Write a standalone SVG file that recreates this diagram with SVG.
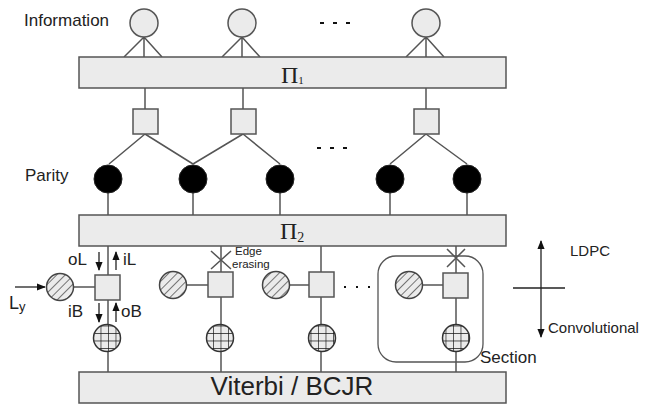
<svg xmlns="http://www.w3.org/2000/svg" width="645" height="407" viewBox="0 0 645 407">
  <defs>
    <style>
      .bar { fill: #ebebeb; stroke: #555; stroke-width: 1.5; }
      .chk { fill: #ebebeb; stroke: #555; stroke-width: 1.5; }
      .var { fill: #ebebeb; stroke: #555; stroke-width: 1.5; }
      .par { fill: #000; stroke: #222; stroke-width: 1; }
      .hat { fill: url(#hatch); stroke: #444; stroke-width: 1.5; }
      .grd { fill: url(#grid); stroke: #333; stroke-width: 1.5; }
      .ln { stroke: #555; stroke-width: 1.5; fill: none; }
      .ar { stroke: #222; stroke-width: 1.3; fill: none; }
      .lbl { font-family: "Liberation Sans", Arial, sans-serif; fill: #222; }
      .pi { font-family: "Liberation Serif", "Times New Roman", serif; fill: #222; }
    </style>
    <pattern id="hatch" patternUnits="userSpaceOnUse" width="6" height="6" patternTransform="rotate(45)">
      <rect width="6" height="6" fill="#ebebeb"/>
      <line x1="0" y1="0" x2="0" y2="6" stroke="#333" stroke-width="1.3"/>
    </pattern>
    <pattern id="grid" patternUnits="userSpaceOnUse" x="3" y="3" width="7.5" height="7.5">
      <rect width="7.5" height="7.5" fill="#ebebeb"/>
      <path d="M0 0H7.5M0 0V7.5" stroke="#111" stroke-width="1.3"/>
    </pattern>
    <marker id="ah" viewBox="0 0 10 10" refX="9" refY="5" markerWidth="7" markerHeight="7" orient="auto">
      <path d="M0 1L10 5L0 9Z" fill="#111"/>
    </marker>
  </defs>

  <!-- connectors -->
  <g id="connectors">
    <!-- information nodes to Pi1 -->
    <path class="ln" d="M144 37L124 57M144 37V57M144 37L162 57"/>
    <path class="ln" d="M242 37L222 57M242 37V57M242 37L260 57"/>
    <path class="ln" d="M426 37L406 57M426 37V57M426 37L444 57"/>
    <!-- Pi1 to check nodes -->
    <path class="ln" d="M145 88V109M243 88V109M426 88V109"/>
    <!-- check nodes to parity -->
    <path class="ln" d="M145 134L109 164M145 134L193 164"/>
    <path class="ln" d="M243 134L193 164M243 134L280 164"/>
    <path class="ln" d="M426 134L390 164M426 134L467 164"/>
    <!-- parity to Pi2 -->
    <path class="ln" d="M108 193V215M193 193V215M280 193V215M390 193V215M467 193V215"/>
    <!-- sections -->
    <path class="ln" d="M108 246V372M74 287H95"/>
    <path class="ln" d="M221 246V372M187 285H208"/>
    <path class="ln" d="M321 246V372M290 285H309"/>
    <path class="ln" d="M456 246V372M423 285H443"/>
    <!-- edge erasing marks -->
    <path class="ln" d="M211 251L231 269M231 251L211 269"/>
    <path class="ln" d="M447 249L465 267M465 249L447 267"/>
    <!-- channel input -->
    <line class="ar" x1="15" y1="287" x2="45" y2="287" marker-end="url(#ah)"/>
    <!-- message arrows -->
    <line class="ar" x1="99" y1="252" x2="99" y2="270" marker-end="url(#ah)"/>
    <line class="ar" x1="116" y1="270" x2="116" y2="252" marker-end="url(#ah)"/>
    <line class="ar" x1="99" y1="303" x2="99" y2="322" marker-end="url(#ah)"/>
    <line class="ar" x1="116" y1="322" x2="116" y2="303" marker-end="url(#ah)"/>
    <!-- LDPC / convolutional axis -->
    <line class="ar" x1="541" y1="288" x2="541" y2="241" marker-end="url(#ah)"/>
    <line class="ar" x1="541" y1="288" x2="541" y2="337" marker-end="url(#ah)"/>
    <line class="ar" x1="513" y1="288" x2="565" y2="288"/>
  </g>

  <!-- interleaver and decoder bars -->
  <g id="pi1">
    <rect class="bar" x="79" y="57" width="427" height="31"/>
    <text class="pi" x="281" y="83" font-size="24">Π<tspan font-size="11" dy="1">1</tspan></text>
  </g>
  <g id="pi2">
    <rect class="bar" x="79" y="215" width="427" height="31"/>
    <text class="pi" x="280" y="239" font-size="24">Π<tspan font-size="14" dy="3">2</tspan></text>
  </g>
  <g id="viterbi">
    <rect class="bar" x="79" y="372" width="427" height="31"/>
    <text class="lbl" x="292" y="395" font-size="26" text-anchor="middle">Viterbi / BCJR</text>
  </g>

  <!-- information nodes -->
  <g id="info">
    <text class="lbl" x="24" y="26" font-size="17">Information</text>
    <circle class="var" cx="144" cy="23" r="14"/>
    <circle class="var" cx="242" cy="23" r="14"/>
    <circle class="var" cx="426" cy="23" r="14"/>
    <path d="M320 23h4M333 23h4M346 23h4" stroke="#111" stroke-width="2.2"/>
  </g>

  <!-- check nodes -->
  <g id="checks">
    <rect class="chk" x="133" y="109" width="25" height="25"/>
    <rect class="chk" x="231" y="109" width="25" height="25"/>
    <rect class="chk" x="414" y="109" width="25" height="25"/>
    <path d="M317 148h4M330 148h4M343 148h4" stroke="#111" stroke-width="2.2"/>
  </g>

  <!-- parity nodes -->
  <g id="parity">
    <text class="lbl" x="25" y="181" font-size="17">Parity</text>
    <circle class="par" cx="108" cy="179" r="14"/>
    <circle class="par" cx="193" cy="179" r="14"/>
    <circle class="par" cx="280" cy="179" r="14"/>
    <circle class="par" cx="390" cy="179" r="14"/>
    <circle class="par" cx="467" cy="179" r="14"/>
  </g>

  <!-- section 1 with message labels -->
  <g id="sec1">
    <circle class="hat" cx="60" cy="287" r="13.5"/>
    <rect class="chk" x="95" y="275" width="25" height="25"/>
    <circle class="grd" cx="107" cy="338" r="13.5"/>
    <text class="lbl" x="9" y="309" font-size="18">L<tspan font-size="13" dy="2">y</tspan></text>
    <text class="lbl" x="68" y="265" font-size="17">oL</text>
    <text class="lbl" x="123" y="265" font-size="17">iL</text>
    <text class="lbl" x="68" y="317" font-size="17">iB</text>
    <text class="lbl" x="121" y="317" font-size="17">oB</text>
  </g>

  <!-- section 2 -->
  <g id="sec2">
    <circle class="hat" cx="173" cy="285" r="13.5"/>
    <rect class="chk" x="208" y="272" width="25" height="25"/>
    <circle class="grd" cx="220" cy="338" r="13.5"/>
    <text class="lbl" x="235" y="255" font-size="11.5">Edge</text>
    <text class="lbl" x="232" y="268" font-size="11.5">erasing</text>
  </g>

  <!-- section 3 -->
  <g id="sec3">
    <circle class="hat" cx="276" cy="285" r="13.5"/>
    <rect class="chk" x="309" y="272" width="25" height="25"/>
    <circle class="grd" cx="322" cy="338" r="13.5"/>
    <path d="M344 287h2M356 287h2M368 287h2" stroke="#111" stroke-width="2.2"/>
  </g>

  <!-- section 4 (outlined) -->
  <g id="sec4">
    <rect x="378" y="256" width="105" height="106" rx="18" fill="none" stroke="#555" stroke-width="1.3"/>
    <circle class="hat" cx="409" cy="285" r="13.5"/>
    <rect class="chk" x="443" y="273" width="25" height="25"/>
    <circle class="grd" cx="456" cy="338" r="13.5"/>
    <text class="lbl" x="480" y="363" font-size="17">Section</text>
  </g>

  <!-- axis labels -->
  <g id="axis">
    <text class="lbl" x="570" y="256" font-size="15">LDPC</text>
    <text class="lbl" x="548" y="333" font-size="15">Convolutional</text>
  </g>
</svg>
